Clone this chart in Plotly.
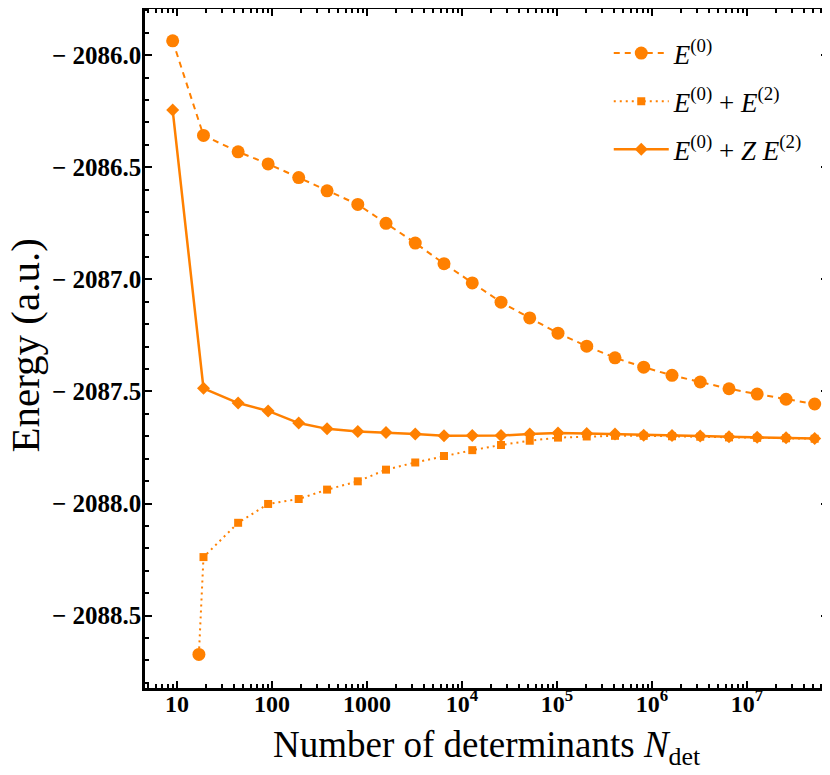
import plotly.graph_objects as go

# Number of determinants (x) and energies (a.u.)
n_det = [9, 19, 44, 91, 191, 380, 800, 1585, 3220, 6465, 12830, 25760, 51650,
         102500, 205600, 408000, 818000, 1625000, 3220000, 6470000, 12800000,
         25800000, 51600000]
n_det_pt2 = [17] + n_det[1:]

e0 = [-2085.936, -2086.358, -2086.431, -2086.485, -2086.546, -2086.605, -2086.666,
      -2086.750, -2086.838, -2086.930, -2087.016, -2087.102, -2087.172, -2087.240,
      -2087.298, -2087.350, -2087.392, -2087.428, -2087.458, -2087.488, -2087.512,
      -2087.535, -2087.556]
e0_e2 = [-2088.673, -2088.239, -2088.086, -2088.002, -2087.980, -2087.938, -2087.901,
         -2087.849, -2087.817, -2087.788, -2087.762, -2087.739, -2087.720, -2087.706,
         -2087.701, -2087.698, -2087.698, -2087.700, -2087.702, -2087.705, -2087.707,
         -2087.709, -2087.711]
e0_ze2 = [-2086.245, -2087.486, -2087.552, -2087.587, -2087.641, -2087.667, -2087.679,
          -2087.683, -2087.690, -2087.698, -2087.697, -2087.697, -2087.690, -2087.686,
          -2087.688, -2087.690, -2087.695, -2087.697, -2087.699, -2087.702, -2087.704,
          -2087.707, -2087.710]

y_ticks = [-2086.0, -2086.5, -2087.0, -2087.5, -2088.0, -2088.5]
y_ticktext = ["\u2212 2086.0", "\u2212 2086.5", "\u2212 2087.0", "\u2212 2087.5", "\u2212 2088.0", "\u2212 2088.5"]
x_ticks = [10, 100, 1000, 1e4, 1e5, 1e6, 1e7]
x_ticktext = ["10", "100", "1000", "10<sup>4</sup>", "10<sup>5</sup>", "10<sup>6</sup>", "10<sup>7</sup>"]

orange = "#ff8000"

fig = go.Figure()
fig.add_trace(go.Scatter(
    x=n_det, y=e0, mode="lines+markers", legendgroup="a",
    name="<i>E</i><sup>(0)</sup>",
    line=dict(color=orange, width=2, dash="6px,5px"),
    marker=dict(symbol="circle", size=13, color=orange, opacity=1),
))
fig.add_trace(go.Scatter(
    x=n_det_pt2, y=e0_e2, mode="lines+markers", legendgroup="b",
    name="<i>E</i><sup>(0)</sup> + <i>E</i><sup>(2)</sup>",
    line=dict(color=orange, width=2, dash="2px,4px"),
    marker=dict(symbol="square", size=8, color=orange, opacity=1),
))
fig.add_trace(go.Scatter(
    x=n_det_pt2[:1], y=e0_e2[:1], mode="markers", showlegend=False,
    marker=dict(symbol="circle", size=13, color=orange, opacity=1),
))
fig.add_trace(go.Scatter(
    x=n_det, y=e0_ze2, mode="lines+markers", legendgroup="c",
    name="<i>E</i><sup>(0)</sup> + <i>Z E</i><sup>(2)</sup>",
    line=dict(color=orange, width=2.5),
    marker=dict(symbol="diamond", size=10, color=orange, opacity=1),
))

ytickfont = dict(family="Liberation Serif", size=25, color="black", weight="bold")
xtickfont = dict(family="Liberation Serif", size=24, color="black", weight="bold")

fig.update_layout(
    width=822, height=767,
    margin=dict(l=137, r=2, t=1, b=87),
    plot_bgcolor="white", paper_bgcolor="white",
    font=dict(family="Liberation Serif", color="black"),
    showlegend=True,
    legend=dict(x=0.679, y=0.9705, xanchor="left", yanchor="top",
                font=dict(family="Liberation Serif", size=27, color="black"),
                bgcolor="rgba(0,0,0,0)", tracegroupgap=10, itemwidth=55),
    xaxis=dict(
        type="log", range=[0.663, 7.853], automargin=False,
        tickvals=x_ticks, ticktext=x_ticktext, tickfont=xtickfont,
        ticks="inside", ticklen=7, tickwidth=1.5, tickcolor="black",
        ticklabelstandoff=-8,
        minor=dict(ticks="inside", ticklen=4, tickcolor="black", dtick="D1", showgrid=False),
        showline=True, linecolor="black", linewidth=2.5, mirror="allticks",
        showgrid=False, zeroline=False,
    ),
    yaxis=dict(
        range=[-2088.823, -2085.794], automargin=False,
        tickvals=y_ticks, ticktext=y_ticktext, tickfont=ytickfont,
        ticks="inside", ticklen=7, tickwidth=1.5, tickcolor="black",
        ticklabelstandoff=-4,
        minor=dict(ticks="inside", ticklen=4, tickcolor="black", dtick=0.1, showgrid=False),
        showline=True, linecolor="black", linewidth=2.5, mirror="allticks",
        showgrid=False, zeroline=False,
    ),
    annotations=[
        dict(text="Number of determinants <i>N</i><sub>det</sub>",
             xref="paper", yref="paper", x=0.5, y=-0.088, xanchor="center", yanchor="middle",
             showarrow=False, font=dict(family="Liberation Serif", size=37, color="black")),
        dict(text="Energy (a.u.)", textangle=-90,
             xref="paper", yref="paper", x=-0.176, y=0.504, xanchor="center", yanchor="middle",
             showarrow=False, font=dict(family="Liberation Serif", size=41, color="black")),
    ],
)

fig.write_html("out.html")
